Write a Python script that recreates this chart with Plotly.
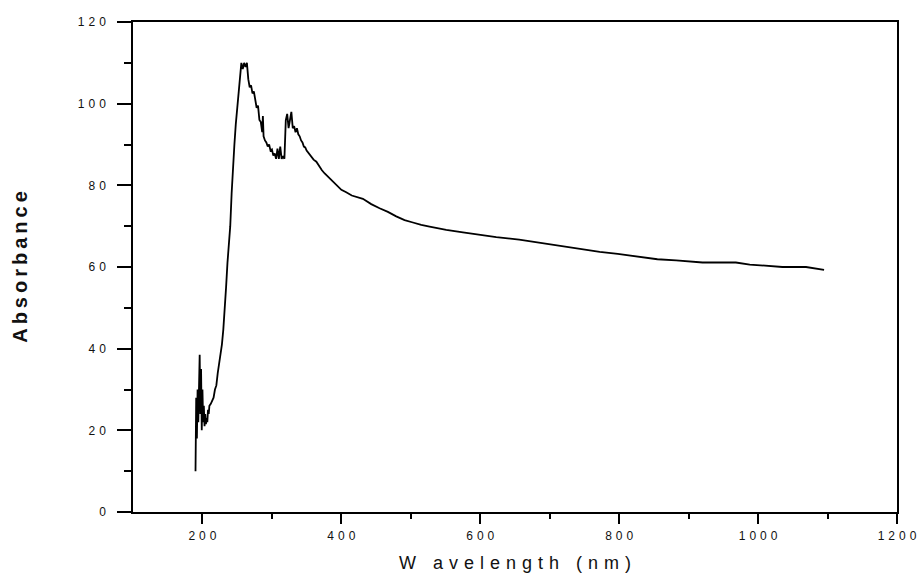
import plotly.graph_objects as go

# Wavelength (nm) and absorbance
wavelength = [190, 191, 192, 193, 194, 195, 196, 197, 198, 199, 200, 201, 202, 203, 204,
              205, 206, 207, 208, 209, 210, 212, 214, 216, 218, 220, 222, 224, 226, 228,
              230, 232, 234, 236, 238, 240, 242, 244, 246, 248, 250, 252, 254, 256, 258,
              260, 262, 264, 266, 268, 270, 272, 274, 276, 278, 280, 282, 284, 286, 287,
              288, 290, 292, 294, 296, 298, 300, 302, 304, 306, 308, 310, 312, 314, 316,
              318, 320, 322, 324, 326, 328, 330, 332, 334, 336, 338, 340, 342, 344, 346,
              348, 350, 353, 356, 360, 364, 368, 372, 376, 380, 385, 390, 395, 400, 407,
              415, 431, 443, 455, 467, 479, 491, 503, 515, 527, 551, 575, 599, 623, 656,
              695, 721, 748, 772, 798, 824, 855, 882, 920, 968, 988, 1035, 1069, 1095]
absorbance = [10.0, 28.0, 18.0, 30.0, 22.0, 34.0, 38.5, 24.0, 35.0, 20.0, 30.0, 22.0, 26.0, 21.0, 24.0,
              21.5, 23.0, 22.0, 25.0, 24.0, 26.0, 26.5, 27.5, 28.0, 30.0, 31.0, 34.0, 36.0, 38.5, 41.0,
              44.6, 49.0, 55.0, 61.0, 66.0, 70.0, 78.0, 85.0, 90.0, 95.0, 99.0, 104.0, 108.0, 110.0, 108.5,
              110.0, 109.0, 110.0, 106.0, 104.0, 104.5, 102.5, 103.0, 100.5, 99.0, 99.5, 96.0, 95.5, 93.0, 97.0,
              92.0, 91.0, 90.5, 89.5, 90.0, 88.5, 88.8, 87.3, 87.8, 86.5, 89.0, 86.5, 89.5, 86.5, 87.0,
              86.5, 96.0, 97.5, 94.0, 96.0, 98.0, 94.0, 94.5, 93.0, 94.0, 92.5, 92.0, 91.0, 90.5, 89.5,
              89.3, 88.5, 87.8, 87.4, 86.3, 85.8, 84.6, 83.7, 82.9, 82.2, 81.3, 80.5, 79.6, 78.9, 78.3,
              77.5, 76.7, 75.4, 74.4, 73.5, 72.4, 71.5, 70.9, 70.3, 69.9, 69.1, 68.5, 67.9, 67.3, 66.7,
              65.7, 65.0, 64.2, 63.7, 63.2, 62.6, 61.9, 61.6, 61.1, 61.1, 60.6, 60.0, 60.0, 59.3]

x_ticks = [200, 400, 600, 800, 1000, 1200]
y_ticks = [0, 20, 40, 60, 80, 100, 120]
x_title = "W avelength (nm)"
y_title = "Absorbance"

GAP = "\u2004"


def spaced(s, sep=GAP):
    return sep.join(list(s))


fig = go.Figure()
fig.add_trace(go.Scatter(x=wavelength, y=absorbance, mode="lines",
                         line=dict(color="black", width=1.8), showlegend=False))

font_family = "Liberation Sans, Arial, sans-serif"

fig.update_layout(
    width=921, height=584,
    margin=dict(l=133, r=24, t=22, b=72),
    paper_bgcolor="white", plot_bgcolor="white",
    font=dict(family=font_family, color="#222"),
)
fig.update_xaxes(
    range=[100, 1200], showgrid=False, zeroline=False, automargin=False,
    showline=True, linecolor="black", linewidth=1.5, mirror=True,
    tickmode="array", tickvals=x_ticks, ticktext=[spaced(str(v)) for v in x_ticks],
    ticks="outside", ticklen=10, tickwidth=1.5, tickcolor="black",
    tickfont=dict(size=12, color="#111"), ticklabelstandoff=2,
    minor=dict(tickmode="array", tickvals=[300, 500, 700, 900, 1100], ticks="outside",
               ticklen=5, tickwidth=1.5, tickcolor="black"),
    title=dict(text=spaced(x_title), font=dict(size=18, color="#111"), standoff=14),
)
fig.update_yaxes(
    range=[0, 120], showgrid=False, zeroline=False, automargin=False,
    showline=True, linecolor="black", linewidth=1.5, mirror=True,
    tickmode="array", tickvals=y_ticks, ticktext=[spaced(str(v)) for v in y_ticks],
    ticks="outside", ticklen=14, tickwidth=1.5, tickcolor="black",
    tickfont=dict(size=12, color="#111"), ticklabelstandoff=9,
    minor=dict(tickmode="array", tickvals=[10, 30, 50, 70, 90, 110], ticks="outside",
               ticklen=7, tickwidth=1.5, tickcolor="black"),
    title=dict(text=spaced(y_title, "\u2009"), font=dict(size=20, color="#111", weight="bold"), standoff=45),
)

# remove the default page margin so the 921x584 figure fills the window exactly
fig.write_html("out.html", config={"displayModeBar": False},
               post_script="document.body.style.margin='0';")
